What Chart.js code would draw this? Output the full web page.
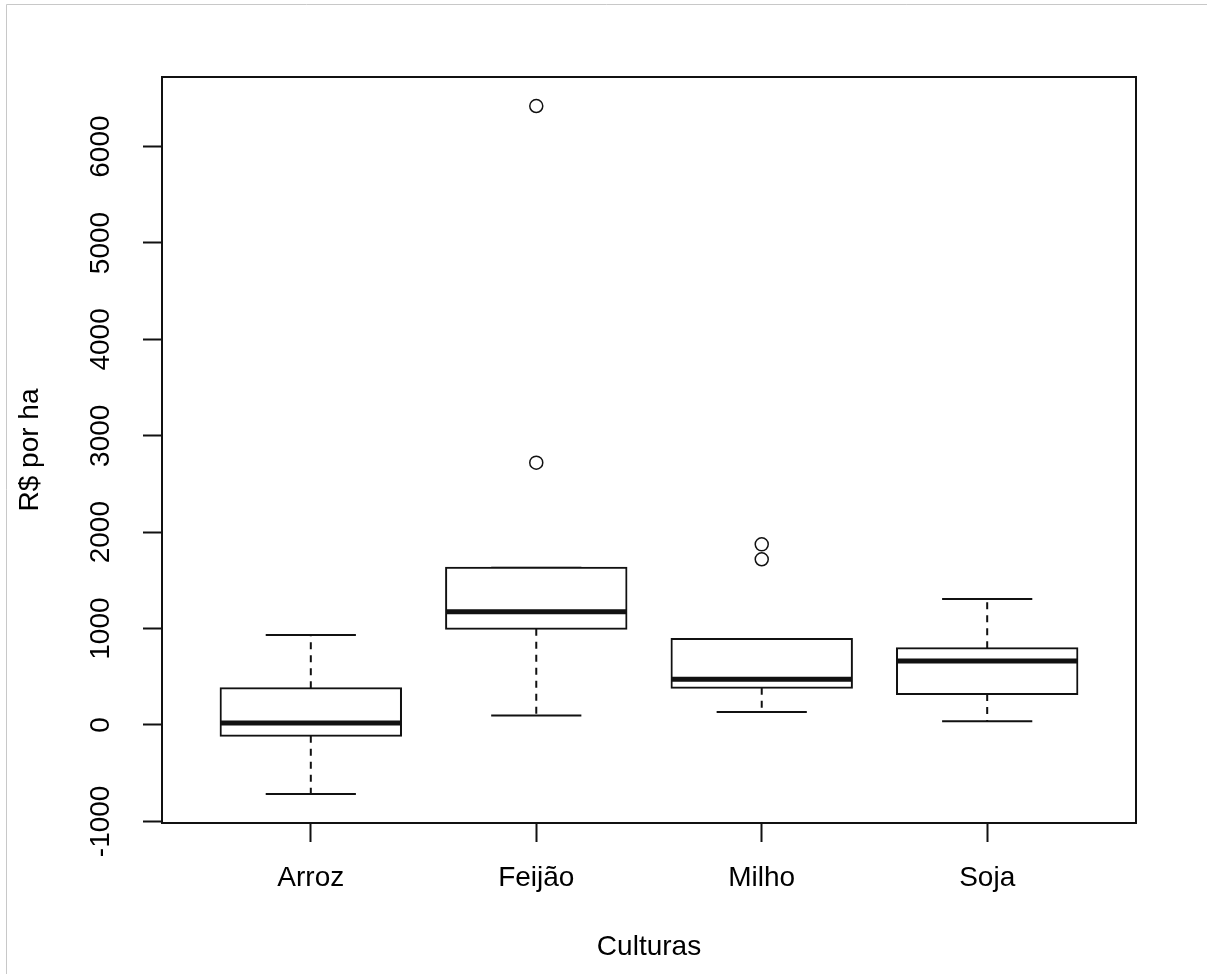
<!DOCTYPE html>
<html>
<head>
<meta charset="utf-8">
<script src="https://cdn.jsdelivr.net/npm/chart.js@4.4.1/dist/chart.umd.min.js"></script>
<style>
  html, body { margin: 0; padding: 0; background: #fff; }
  #wrap { width: 1207px; height: 974px; }
</style>
</head>
<body>
<div id="wrap"><canvas id="chart"></canvas></div>
<script>
const categories = ['Arroz', 'Feijão', 'Milho', 'Soja'];
const whiskerLow = [-716, 97, 135, 38];
const q1 = [-111, 999, 387, 322];
const median = [21, 1175, 474, 664];
const q3 = [381, 1632, 892, 795];
const whiskerHigh = [934, 1632, 892, 1307];
const outliers = [[], [2721, 6421], [1719, 1874], []];
const yTicks = [-1000, 0, 1000, 2000, 3000, 4000, 5000, 6000];

const ink = '#111';
const font = {family: '"Liberation Sans", Arial, sans-serif', size: 28, lineHeight: 1};
const pos = categories.map((c, i) => i + 1);

// segments -> points with a null between them so lines break
function segs(list) {
  const pts = [];
  list.forEach(s => {
    pts.push({x: s[0], y: s[1]}, {x: s[2], y: s[3]}, {x: s[2], y: null});
  });
  return pts;
}

const boxHalf = 0.4, capHalf = 0.2;

const medianPts = segs(pos.map((x, i) => [x - boxHalf, median[i], x + boxHalf, median[i]]));
const whiskerPts = segs(pos.flatMap((x, i) => [
  [x, q3[i], x, whiskerHigh[i]],
  [x, q1[i], x, whiskerLow[i]]
]));
const capPts = segs(pos.flatMap((x, i) => [
  [x - capHalf, whiskerHigh[i], x + capHalf, whiskerHigh[i]],
  [x - capHalf, whiskerLow[i], x + capHalf, whiskerLow[i]]
]));
const outlierPts = pos.flatMap((x, i) => outliers[i].map(v => ({x: x, y: v})));

const lineBase = {type: 'line', borderColor: ink, pointRadius: 0, spanGaps: false};

const background = {
  id: 'background',
  beforeDraw(chart) {
    const ctx = chart.ctx;
    ctx.save();
    ctx.fillStyle = '#fff';
    ctx.fillRect(0, 0, chart.width, chart.height);
    ctx.strokeStyle = '#c8c8c8';
    ctx.lineWidth = 1;
    ctx.beginPath();
    ctx.moveTo(6.5, chart.height);
    ctx.lineTo(6.5, 4.5);
    ctx.lineTo(chart.width, 4.5);
    ctx.stroke();
    ctx.restore();
  },
  afterDraw(chart) {
    const a = chart.chartArea, ctx = chart.ctx;
    ctx.save();
    ctx.strokeStyle = ink;
    ctx.lineWidth = 2;
    ctx.strokeRect(a.left, a.top, a.right - a.left, a.bottom - a.top);
    ctx.restore();
  }
};

new Chart(document.getElementById('chart'), {
  type: 'bar',
  data: {
    datasets: [
      Object.assign({}, lineBase, {data: medianPts, borderWidth: 5, borderCapStyle: 'butt', order: 1}),
      Object.assign({}, lineBase, {
        data: outlierPts, showLine: false, pointRadius: 6.5, pointBorderWidth: 1.5,
        pointBackgroundColor: '#fff', pointBorderColor: ink, order: 1
      }),
      {
        type: 'bar',
        data: pos.map((x, i) => ({x: x, y: [q1[i], q3[i]]})),
        backgroundColor: '#fff',
        borderColor: ink,
        borderWidth: 2,
        borderSkipped: false,
        inflateAmount: 1,
        barPercentage: 0.8,
        categoryPercentage: 1,
        order: 3
      },
      // caps and whiskers sit under the box
      Object.assign({}, lineBase, {data: capPts, borderWidth: 2, borderCapStyle: 'butt', order: 5}),
      Object.assign({}, lineBase, {data: whiskerPts, borderWidth: 2, borderDash: [7, 6], borderCapStyle: 'butt', order: 5})
    ]
  },
  options: {
    responsive: true,
    maintainAspectRatio: false,
    animation: false,
    events: [],
    layout: {padding: {top: 77, right: 71, left: 0, bottom: 0}},
    plugins: {legend: {display: false}, tooltip: {enabled: false}},
    scales: {
      x: {
        type: 'linear',
        min: 0.34,
        max: 4.66,
        offset: false,
        afterFit(s) { s.height = 151; },
        afterBuildTicks(s) { s.ticks = pos.map(v => ({value: v})); },
        border: {display: false},
        grid: {display: true, drawOnChartArea: false, drawTicks: true, tickLength: 19, tickWidth: 2, tickColor: ink, offset: false},
        ticks: {
          color: '#000', font: font, padding: 22, maxRotation: 0, autoSkip: false,
          callback: v => categories[v - 1]
        },
        title: {display: true, text: 'Culturas', color: '#000', font: font, padding: {top: 0, bottom: 13}}
      },
      y: {
        type: 'linear',
        min: -1017,
        max: 6722,
        afterFit(s) { s.width = 162; },
        afterBuildTicks(s) { s.ticks = yTicks.map(v => ({value: v})); },
        border: {display: false},
        grid: {display: true, drawOnChartArea: false, drawTicks: true, tickLength: 19, tickWidth: 2, tickColor: ink},
        ticks: {
          color: '#000', font: font, padding: 6, minRotation: 90, maxRotation: 90,
          crossAlign: 'center', autoSkip: false,
          callback: v => String(v)
        },
        title: {display: true, text: 'R$ por ha', color: '#000', font: font, padding: {top: 16, bottom: 0}}
      }
    }
  },
  plugins: [background]
});
</script>
</body>
</html>
